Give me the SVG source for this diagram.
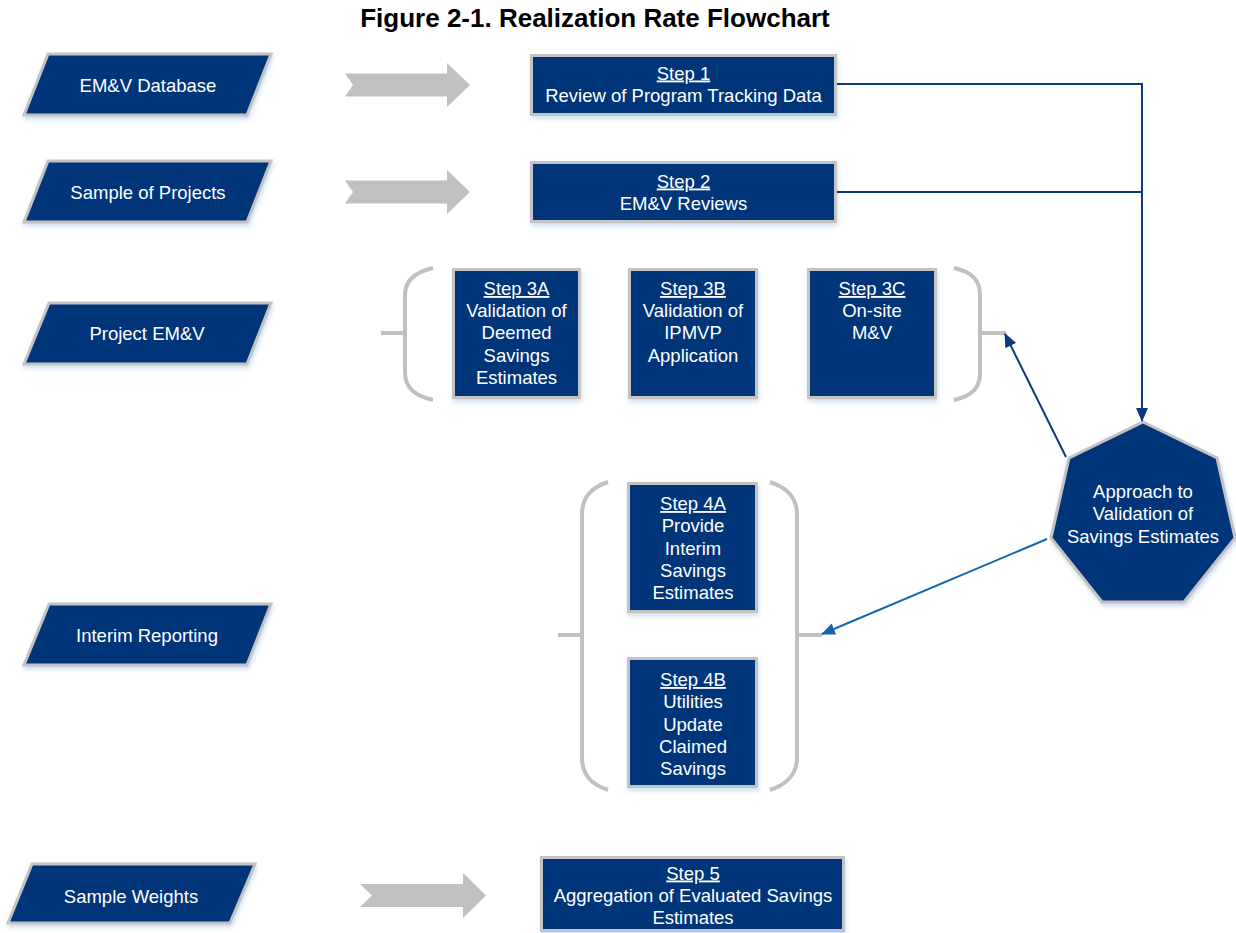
<svg xmlns="http://www.w3.org/2000/svg" width="1236" height="933" viewBox="0 0 1236 933">
<defs>
<style>
.node{fill:#03357a;stroke:#c3c3c3;stroke-width:3;filter:url(#sh);}
.t{font-family:"Liberation Sans",Arial,sans-serif;font-size:18.5px;fill:#ffffff;text-anchor:middle;}
.u{text-decoration:underline;}
.garrow{fill:#c0c0c0;}
.br{fill:none;stroke:#c0c0c0;stroke-width:4;}
.c1{fill:none;stroke:#0b3a7c;stroke-width:2;}
.c2{fill:none;stroke:#1466aa;stroke-width:2;}
.title{font-family:"Liberation Sans",Arial,sans-serif;font-size:26px;font-weight:bold;fill:#000;text-anchor:middle;}
</style>
<filter id="sh" x="-10%" y="-10%" width="120%" height="130%">
<feDropShadow dx="1" dy="3" stdDeviation="2" flood-color="#9dc0e6" flood-opacity="0.5"/>
</filter>
<marker id="m1" markerWidth="14" markerHeight="12" refX="13" refY="6" orient="auto" markerUnits="userSpaceOnUse">
<path d="M0,0 L14,6 L0,12 Z" fill="#0b3a7c"/>
</marker>
<marker id="m2" markerWidth="14" markerHeight="12" refX="13" refY="6" orient="auto" markerUnits="userSpaceOnUse">
<path d="M0,0 L14,6 L0,12 Z" fill="#1466aa"/>
</marker>
</defs>
<rect width="1236" height="933" fill="#ffffff"/>
<text class="title" x="595" y="27">Figure 2-1. Realization Rate Flowchart</text>

<g id="input-emv-database">
<polygon class="node" points="48,54 271,54 247,115 24,115"/>
<text class="t" x="148" y="91.5">EM&amp;V Database</text>
</g>
<g id="input-sample-of-projects">
<polygon class="node" points="48,161 271,161 247,222 24,222"/>
<text class="t" x="148" y="198.5">Sample of Projects</text>
</g>
<g id="input-project-emv">
<polygon class="node" points="49,303 271,303 247,364 24,364"/>
<text class="t" x="147" y="339.5">Project EM&amp;V</text>
</g>
<g id="input-interim-reporting">
<polygon class="node" points="49,604 271,604 247,665 24,665"/>
<text class="t" x="147" y="642">Interim Reporting</text>
</g>
<g id="input-sample-weights">
<polygon class="node" points="32,864 255,864 230,923 8,923"/>
<text class="t" x="131" y="902.5">Sample Weights</text>
</g>

<g id="gray-arrows">
<path class="garrow" d="M345,73.5 L447,73.5 L447,63 L470,85 L447,107 L447,96.5 L345,96.5 L353,85 Z"/>
<path class="garrow" d="M345,180.5 L447,180.5 L447,170 L470,192 L447,214 L447,203.5 L345,203.5 L353,192 Z"/>
<path class="garrow" d="M360,884 L463,884 L463,873 L486,895.5 L463,918 L463,907 L360,907 L372,895.5 Z"/>
</g>

<g id="step1">
<rect class="node" x="531.5" y="55.5" width="304" height="59"/>
<text class="t" x="683.5" y="79.5"><tspan class="u">Step 1</tspan></text>
<text class="t" x="683.5" y="101.5">Review of Program Tracking Data</text>
</g>
<g id="step2">
<rect class="node" x="531.5" y="162.5" width="304" height="59"/>
<text class="t" x="683.5" y="187.5"><tspan class="u">Step 2</tspan></text>
<text class="t" x="683.5" y="209.5">EM&amp;V Reviews</text>
</g>

<g id="bracket3">
<path class="br" d="M381,333 L405,333"/>
<path class="br" d="M433,268 C415,272 405,280 405,295 L405,373 C405,388 415,396 433,400"/>
<path class="br" d="M954,268 C972,272 980,280 980,295 L980,373 C980,388 972,396 954,400"/>
<path class="br" d="M980,333 L1006,333"/>
</g>
<g id="step3a">
<rect class="node" x="453.5" y="269.5" width="126" height="128"/>
<text class="t" x="516.5" y="295"><tspan class="u">Step 3A</tspan><tspan x="516.5" dy="22">Validation of</tspan><tspan x="516.5" dy="22">Deemed</tspan><tspan x="516.5" dy="22.5">Savings</tspan><tspan x="516.5" dy="22">Estimates</tspan></text>
</g>
<g id="step3b">
<rect class="node" x="629.5" y="269.5" width="127" height="128"/>
<text class="t" x="693" y="295"><tspan class="u">Step 3B</tspan><tspan x="693" dy="22">Validation of</tspan><tspan x="693" dy="22">IPMVP</tspan><tspan x="693" dy="22.5">Application</tspan></text>
</g>
<g id="step3c">
<rect class="node" x="808.5" y="269.5" width="127" height="128"/>
<text class="t" x="872" y="295"><tspan class="u">Step 3C</tspan><tspan x="872" dy="22">On-site</tspan><tspan x="872" dy="22">M&amp;V</tspan></text>
</g>

<g id="bracket4">
<path class="br" d="M558,635 L582,635"/>
<path class="br" d="M608,482 C590,488 582,498 582,515 L582,757 C582,774 590,784 608,790"/>
<path class="br" d="M770,482 C788,488 797,498 797,515 L797,757 C797,774 788,784 770,790"/>
<path class="br" d="M797,635 L822,635"/>
</g>
<g id="step4a">
<rect class="node" x="628.5" y="483.5" width="128" height="128"/>
<text class="t" x="693" y="510"><tspan class="u">Step 4A</tspan><tspan x="693" dy="22">Provide</tspan><tspan x="693" dy="22.5">Interim</tspan><tspan x="693" dy="22">Savings</tspan><tspan x="693" dy="22.5">Estimates</tspan></text>
</g>
<g id="step4b">
<rect class="node" x="628.5" y="658.5" width="128" height="128"/>
<text class="t" x="693" y="686"><tspan class="u">Step 4B</tspan><tspan x="693" dy="22">Utilities</tspan><tspan x="693" dy="22.5">Update</tspan><tspan x="693" dy="22">Claimed</tspan><tspan x="693" dy="22.5">Savings</tspan></text>
</g>

<g id="step5">
<rect class="node" x="541.5" y="857.5" width="302" height="73"/>
<text class="t" x="693" y="879.5"><tspan class="u">Step 5</tspan></text>
<text class="t" x="693" y="901.5">Aggregation of Evaluated Savings</text>
<text class="t" x="693" y="924">Estimates</text>
</g>

<g id="approach">
<polygon class="node" points="1143,422 1217,458 1235,538 1184,602 1102,602 1051,538 1069,458"/>
<text class="t" x="1143" y="497.5">Approach to</text>
<text class="t" x="1143" y="519.5">Validation of</text>
<text class="t" x="1143" y="542.5">Savings Estimates</text>
</g>

<g id="connectors">
<path class="c1" d="M837,84 L1142,84"/>
<path class="c1" d="M837,192 L1142,192"/>
<path class="c1" d="M1142,83 L1142,421" marker-end="url(#m1)"/>
<path class="c1" d="M1066,457 L1005,334" marker-end="url(#m1)"/>
<path class="c2" d="M1047,539 L822,634" marker-end="url(#m2)"/>
</g>
</svg>
